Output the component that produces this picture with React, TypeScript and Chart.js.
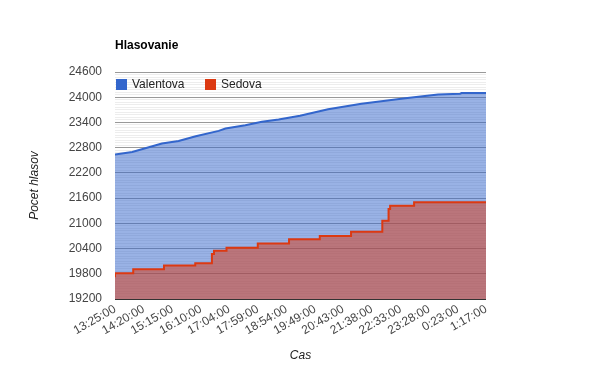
import React, { useEffect, useRef } from "react";
import { Chart, registerables } from "chart.js";

Chart.register(...registerables);

const chartTitle = "Hlasovanie";
const xTitle = "Cas";
const yTitle = "Pocet hlasov";

// x tick positions in minutes since 13:25:00, and their labels
const tickMinutes = [0, 55, 110, 165, 219, 274, 329, 384, 438, 493, 548, 603, 658, 712];
const tickLabels = [
  "13:25:00", "14:20:00", "15:15:00", "16:10:00", "17:04:00", "17:59:00", "18:54:00",
  "19:49:00", "20:43:00", "21:38:00", "22:33:00", "23:28:00", "0:23:00", "1:17:00",
];

// Valentova (minutes, votes)
const valentovaMinutes = [0, 33, 90, 122, 155, 199, 212, 250, 282, 314, 355, 409, 473, 557, 620, 662, 665, 712];
const valentovaVotes = [22635, 22695, 22900, 22960, 23070, 23200, 23255, 23335, 23415, 23472, 23560, 23712, 23845, 23977, 24063, 24080, 24100, 24100];

// Sedova (minutes, votes) - stepwise
const sedovaMinutes = [0, 35, 94, 154, 186, 190, 214, 274, 334, 393, 453, 513, 525, 528, 574, 693, 712];
const sedovaVotes = [19720, 19810, 19910, 19995, 20050, 20270, 20350, 20420, 20520, 20620, 20700, 20800, 21060, 21340, 21420, 21500, 21500];

const yMin = 19200;
const yMax = 24600;
const yMajor = 600;
const yMinor = 60;

const FONT = "'Liberation Sans', Arial, sans-serif";

const BLUE = "#3366cc";
const RED = "#dc3912";

export default function App() {
  const ref = useRef<HTMLCanvasElement | null>(null);

  useEffect(() => {
    if (!ref.current) return;
    const overlay = {
      id: "overlay",
      afterDraw(chart: any) {
        const ctx = chart.ctx;
        const area = chart.chartArea;
        ctx.save();
        ctx.textBaseline = "middle";
        ctx.textAlign = "left";
        ctx.fillStyle = "#000";
        ctx.font = `bold 12px ${FONT}`;
        ctx.fillText(chartTitle, area.left, 46);
        ctx.font = `12px ${FONT}`;
        let x = area.left + 1;
        const y = 84;
        chart.data.datasets.forEach((ds: any) => {
          ctx.fillStyle = ds.borderColor;
          ctx.fillRect(x, y - 5, 11, 11);
          ctx.fillStyle = "#222";
          ctx.fillText(ds.label, x + 16, y + 0.5);
          x += 89;
        });
        ctx.restore();
      },
    };

    const chart = new Chart(ref.current, {
      type: "line",
      data: {
        datasets: [
          {
            label: "Valentova",
            data: valentovaMinutes.map((m, i) => ({ x: m, y: valentovaVotes[i] })),
            borderColor: BLUE,
            backgroundColor: "rgba(51,102,204,0.5)",
            borderWidth: 2,
            pointRadius: 0,
            fill: "start",
            tension: 0,
            order: 1,
          },
          {
            label: "Sedova",
            data: sedovaMinutes.map((m, i) => ({ x: m, y: sedovaVotes[i] })),
            borderColor: RED,
            backgroundColor: "rgba(220,57,18,0.5)",
            borderWidth: 2,
            pointRadius: 0,
            fill: "start",
            stepped: "after",
            order: 0,
          },
        ],
      },
      options: {
        responsive: false,
        animation: false,
        devicePixelRatio: 1,
        layout: { padding: { left: 0, right: 114, top: 72, bottom: 0 } },
        plugins: {
          legend: { display: false },
          title: { display: false },
          tooltip: { enabled: false },
        },
        scales: {
          x: {
            type: "linear",
            min: 0,
            max: 712,
            afterBuildTicks: (scale: any) => {
              scale.ticks = tickMinutes.map((v) => ({ value: v }));
            },
            afterFit: (scale: any) => {
              scale.height = 72;
            },
            grid: { display: false, drawTicks: false },
            border: { display: false },
            ticks: {
              autoSkip: false,
              minRotation: 30,
              maxRotation: 30,
              padding: 3,
              color: "#444",
              font: { family: FONT, size: 12 },
              callback: (_v: any, i: number) => tickLabels[i],
            },
            title: {
              display: true,
              text: xTitle,
              color: "#222",
              font: { family: FONT, size: 12, style: "italic" },
              padding: { top: 0, bottom: 8 },
            },
          },
          y: {
            type: "linear",
            min: yMin,
            max: yMax,
            afterFit: (scale: any) => {
              scale.width = 115;
            },
            border: { display: false },
            grid: {
              drawTicks: false,
              lineWidth: 1,
              color: (c: any) => {
                const v = c.tick ? c.tick.value : 0;
                if (v === yMin) return "#333";
                if ((v - yMin) % yMajor === 0) return "#999";
                return "#ededed";
              },
            },
            ticks: {
              stepSize: yMinor,
              maxTicksLimit: 1000,
              autoSkip: false,
              padding: 13,
              color: "#444",
              font: { family: FONT, size: 12 },
              callback: (v: any) => ((v - yMin) % yMajor === 0 ? String(v) : ""),
            },
            title: {
              display: true,
              text: yTitle,
              color: "#222",
              font: { family: FONT, size: 12, style: "italic" },
              padding: { top: 27, bottom: 0 },
            },
          },
        },
      },
      plugins: [overlay],
    } as any);
    return () => chart.destroy();
  }, []);

  return (
    <div style={{ position: "fixed", left: 0, top: 0, width: 600, height: 371, background: "#fff" }}>
      <canvas ref={ref} width={600} height={371} style={{ display: "block" }} />
    </div>
  );
}
